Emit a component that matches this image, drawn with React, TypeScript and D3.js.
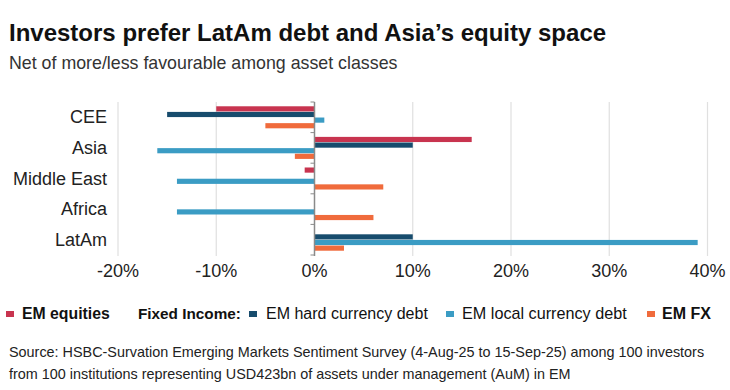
import * as d3 from 'd3'

const categories = ['CEE', 'Asia', 'Middle East', 'Africa', 'LatAm']
const seriesNames = ['EM equities', 'EM hard currency debt', 'EM local currency debt', 'EM FX']
const emEquities = [-10, 16, -1, 0, 0]
const emHardCurrencyDebt = [-15, 10, 0, 0, 10]
const emLocalCurrencyDebt = [1, -16, -14, -14, 39]
const emFx = [-5, -2, 7, 6, 3]
const xTicks = [-20, -10, 0, 10, 20, 30, 40]
const colors = ['#c8344f', '#174c6d', '#3b9cc4', '#f06b3c']

const W = 730
const H = 390
const FONT = '"Liberation Sans", Arial, sans-serif'

export default function App() {
  const series = [emEquities, emHardCurrencyDebt, emLocalCurrencyDebt, emFx]

  const x = d3.scaleLinear().domain([-20, 40]).range([118, 707.5])
  const y = d3.scaleBand<string>()
    .domain(categories)
    .range([102, 255])
    .paddingInner(0.28)
    .paddingOuter(0.14)
  const ySub = d3.scaleBand<string>()
    .domain(seriesNames)
    .range([0, y.bandwidth()])
    .paddingInner(0.08)

  const step = y.step()
  const boundaries = d3.range(categories.length + 1).map(i => 102 + i * step)

  return (
    <svg width={W} height={H} style={{ position: 'absolute', left: 0, top: 0, background: '#fff' }} fontFamily={FONT}>
      {/* titles */}
      <text x={9} y={41} fontSize={24} fontWeight="bold" fill="#111">
        Investors prefer LatAm debt and Asia’s equity space
      </text>
      <text x={9} y={69} fontSize={17.8} fill="#333">
        Net of more/less favourable among asset classes
      </text>

      {/* grid */}
      {xTicks.filter(t => t !== 0).map(t => (
        <line key={t} x1={x(t)} x2={x(t)} y1={102} y2={256} stroke="#e0e0e0" strokeWidth={1.2} />
      ))}

      {/* bars */}
      {categories.map((c, i) => (
        <g key={c} transform={`translate(0,${y(c)})`}>
          {series.map((s, j) => {
            const v = s[i]
            if (v === 0) return null
            return (
              <rect
                key={j}
                x={Math.min(x(0), x(v))}
                y={ySub(seriesNames[j])}
                width={Math.abs(x(v) - x(0))}
                height={ySub.bandwidth()}
                fill={colors[j]}
              />
            )
          })}
        </g>
      ))}

      {/* zero axis */}
      <line x1={x(0)} x2={x(0)} y1={102} y2={256} stroke="#8a8a8a" strokeWidth={1.5} />
      {boundaries.map((b, i) => (
        <line key={i} x1={x(0) - 4} x2={x(0)} y1={b} y2={b} stroke="#8a8a8a" strokeWidth={1} />
      ))}

      {/* category labels */}
      {categories.map(c => (
        <text key={c} x={107} y={(y(c) ?? 0) + y.bandwidth() / 2 + 6} fontSize={18} textAnchor="end" fill="#222">
          {c}
        </text>
      ))}

      {/* x tick labels */}
      {xTicks.map(t => (
        <text key={t} x={x(t)} y={277} fontSize={18} textAnchor="middle" fill="#222">
          {`${t}%`}
        </text>
      ))}

      {/* legend */}
      <g fontSize={16} fill="#111">
        <rect x={6} y={311} width={8} height={6} fill={colors[0]} />
        <text x={22} y={319} fontWeight="bold" fontSize={15.8}>{seriesNames[0]}</text>
        <text x={138} y={319} fontWeight="bold" fontSize={15.3}>Fixed Income:</text>
        <rect x={249} y={311} width={8} height={6} fill={colors[1]} />
        <text x={266} y={319}>{seriesNames[1]}</text>
        <rect x={446} y={311} width={8} height={6} fill={colors[2]} />
        <text x={462} y={319} fontSize={16.2}>{seriesNames[2]}</text>
        <rect x={647} y={311} width={8} height={6} fill={colors[3]} />
        <text x={662} y={319} fontWeight="bold" fontSize={16}>{seriesNames[3]}</text>
      </g>

      {/* source */}
      <g fontSize={14.4} fill="#222">
        <text x={9} y={357}>
          Source: HSBC-Survation Emerging Markets Sentiment Survey (4-Aug-25 to 15-Sep-25) among 100 investors
        </text>
        <text x={9} y={379}>
          from 100 institutions representing USD423bn of assets under management (AuM) in EM
        </text>
      </g>
    </svg>
  )
}
